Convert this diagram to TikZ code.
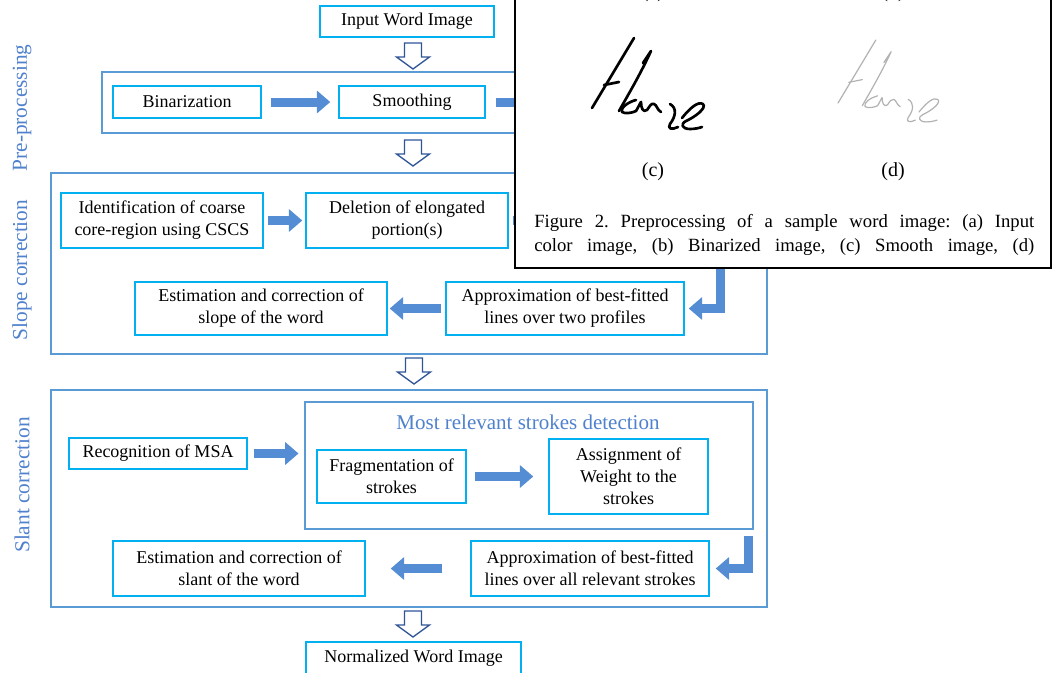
\documentclass[tikz,border=0pt]{standalone}
\usepackage{fontspec}
\setmainfont{Liberation Serif}
\usetikzlibrary{arrows.meta,calc}
\definecolor{grpblue}{RGB}{91,155,213}
\definecolor{boxcyan}{RGB}{0,176,240}
\definecolor{arrblue}{RGB}{84,141,212}
\definecolor{hollowc}{RGB}{47,85,151}
\definecolor{labblue}{RGB}{79,129,205}
\tikzset{
  stepbox/.style={draw=boxcyan, line width=1.1pt, fill=white, align=center, inner sep=0pt,
    font=\fontsize{13.5pt}{16.5pt}\selectfont},
  grp/.style={draw=grpblue, line width=2.2pt, inner sep=0pt},
  barrow/.style={draw=arrblue, line width=6.75pt, line join=miter,
    -{Triangle[width=16.5pt,length=10pt]}},
  hollow/.style={draw=hollowc, line width=1pt, fill=white, line join=miter},
  sidelab/.style={rotate=90, text=labblue, font=\fontsize{16pt}{19pt}\selectfont},
  hw/.style={line cap=round, line join=round}
}
\newcommand\hollowdown[2]{%
  \draw[hollow] (#1-8.5,#2) -- (#1+8.5,#2) -- (#1+8.5,#2+14) -- (#1+16.5,#2+14)
    -- (#1,#2+26) -- (#1-16.5,#2+14) -- (#1-8.5,#2+14) -- cycle;}
\newcommand\hwword{%
  \draw (634,38) .. controls (622,58) and (604,88) .. (592,108);
  \draw (604,85) -- (619,82);
  \draw (643,63) -- (651,51) .. controls (640,75) and (628,95) .. (619,111);
  \draw (636,100) .. controls (628,102) and (620,108) .. (622,112)
    .. controls (625,114) and (632,113) .. (636,111)
    .. controls (638,108) and (640,103) .. (641,102)
    .. controls (641,108) and (643,113) .. (647,110)
    .. controls (650,106) and (651,103) .. (654,104)
    .. controls (657,105) and (657,110) .. (661,112);
  \draw (670,104) .. controls (677,108) and (676,116) .. (670,124)
    .. controls (667,129) and (672,130) .. (678,127);
  \draw (682,118) .. controls (690,108) and (698,101) .. (703,104)
    .. controls (707,108) and (695,117) .. (686,121)
    .. controls (680,124) and (682,129) .. (690,129)
    .. controls (695,129) and (699,128) .. (702,127);
}
\begin{document}
\frenchspacing
\begin{tikzpicture}[x=0.75pt, y=-0.75pt]
\useasboundingbox (0,0) rectangle (1053,672);

% group containers
\node[grp, minimum width=498.75pt, minimum height=45.75pt] (pre) at (434.5,102.5) {};
\node[grp, minimum width=537pt, minimum height=135.75pt] (slope) at (409,263.5) {};
\node[grp, minimum width=537pt, minimum height=162.75pt] (slant) at (409,498.5) {};
\node[grp, minimum width=336pt, minimum height=95.25pt] (mrsd) at (529,465.5) {};

% side labels
\node[sidelab] (lpre) at (22,108) {Pre-processing};
\node[sidelab] (lslope) at (22,270) {Slope correction};
\node[sidelab] (lslant) at (22,485) {Slant correction};
\node[text=labblue, font=\fontsize{15.75pt}{19pt}\selectfont] (mtitle) at (528,422) {Most relevant strokes detection};

% step boxes
\node[stepbox, minimum width=130.5pt, minimum height=23.25pt] (inwi) at (407,21.5) {Input Word Image};
\node[stepbox, minimum width=111pt, minimum height=24pt] (bin) at (187,102) {Binarization};
\node[stepbox, minimum width=109.5pt, minimum height=24pt] (smo) at (412,102) {Smoothing};
\node[stepbox, minimum width=151.5pt, minimum height=41.25pt] (ident) at (162,220.5) {Identification of coarse\\core-region using CSCS};
\node[stepbox, minimum width=151.5pt, minimum height=41.25pt] (del) at (407,220.5) {Deletion of elongated\\portion(s)};
\node[stepbox, minimum width=189pt, minimum height=39.75pt] (estslope) at (261,308.5) {Estimation and correction of\\slope of the word};
\node[stepbox, minimum width=178.5pt, minimum height=39.75pt] (approxslope) at (565,308.5) {Approximation of best-fitted\\lines over two profiles};
\node[stepbox, minimum width=133.5pt, minimum height=23.25pt] (msa) at (158,453.5) {Recognition of MSA};
\node[stepbox, minimum width=111.75pt, minimum height=39.75pt] (frag) at (391.5,476.5) {Fragmentation of\\strokes};
\node[stepbox, minimum width=119.25pt, minimum height=56.25pt] (assign) at (628.5,476.5) {Assignment of\\Weight to the\\strokes};
\node[stepbox, minimum width=178.5pt, minimum height=41.25pt] (approxslant) at (590,568.5) {Approximation of best-fitted\\lines over all relevant strokes};
\node[stepbox, minimum width=189pt, minimum height=41.25pt] (estslant) at (239,568.5) {Estimation and correction of\\slant of the word};
\node[stepbox, minimum width=161.25pt, minimum height=24pt] (norm) at (413.5,658) {Normalized Word Image};

% block arrows
\coordinate (bendA) at (720,250);
\coordinate (bendB) at (748,536);
\draw[barrow] ($(bin.east)+(9,0)$) -- ($(smo.west)+(-8,0)$);
\draw[barrow] ($(smo.east)+(10,0)$) -- ++(70,0);
\draw[barrow] ($(ident.east)+(4,0)$) -- ($(del.west)+(-3,0)$);
\draw[barrow] ($(del.east)+(4,0)$) -- ++(60,0);
\draw[barrow] (bendA) |- ($(approxslope.east)+(4,0)$);
\draw[barrow] ($(approxslope.west)+(-4,0)$) -- ($(estslope.east)+(2,0)$);
\draw[barrow] ($(msa.east)+(6,0)$) -- ($(mrsd.west)+(-5,-12)$);
\draw[barrow] ($(frag.east)+(8,0)$) -- ($(assign.west)+(-15,0)$);
\draw[barrow] (bendB) |- ($(approxslant.east)+(6,0)$);
\draw[barrow] ($(approxslant.west)+(-28,0)$) -- ($(estslant.east)+(25,0)$);

% hollow down arrows
\hollowdown{413}{43}
\hollowdown{413}{140}
\hollowdown{414}{358}
\hollowdown{413}{611}

% overlaid figure
\draw[line width=1.6pt, fill=white] (515,-5) rectangle (1051,268);
\node[font=\fontsize{15pt}{18pt}\selectfont] (la) at (653,-7) {(a)};
\node[font=\fontsize{15pt}{18pt}\selectfont] (lb) at (893,-7) {(b)};
\node[font=\fontsize{15pt}{18pt}\selectfont] (lc) at (653,172) {(c)};
\node[font=\fontsize{15pt}{18pt}\selectfont] (ld) at (893,172) {(d)};
\begin{scope}[hw, line width=2pt]
  \hwword
\end{scope}
\begin{scope}[hw, shift={(305.2,5.8)}, scale=0.9, color=gray!60, line width=0.9pt]
  \hwword
\end{scope}
\node[anchor=base west, inner sep=0pt, font=\fontsize{14pt}{18pt}\selectfont] (cap1) at (534,227)
  {\makebox[375pt][s]{Figure 2. Preprocessing of a sample word image: (a) Input}};
\node[anchor=base west, inner sep=0pt, font=\fontsize{14pt}{18pt}\selectfont] (cap2) at (534,251)
  {\makebox[375pt][s]{color image, (b) Binarized image, (c) Smooth image, (d)}};
\end{tikzpicture}
\end{document}
